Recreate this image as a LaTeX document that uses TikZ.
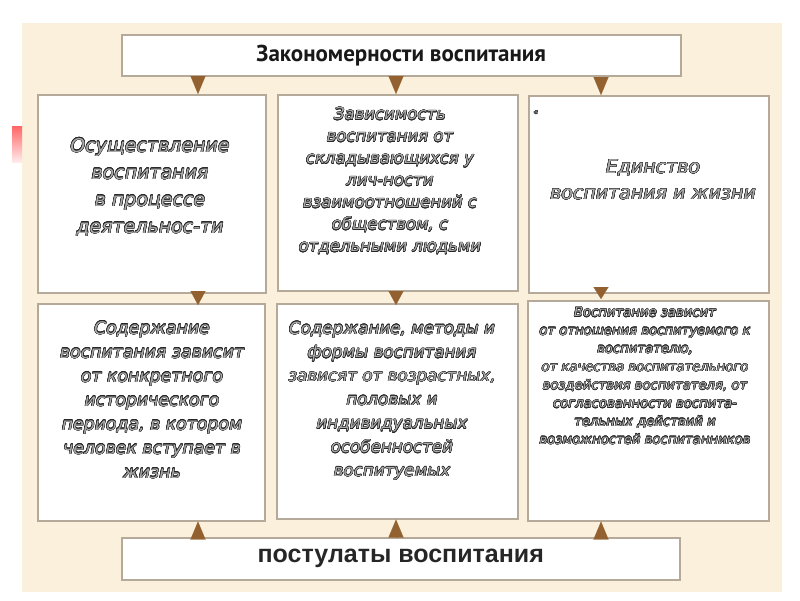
\documentclass[tikz,border=0pt]{standalone}
\usepackage{fontspec}
\usepackage[copies]{contour}
\usetikzlibrary{arrows.meta,calc}
\setmainfont{DejaVu Sans}
\newfontfamily\titlefont{PT Sans}
\newfontfamily\postfont{Liberation Sans}
\definecolor{bgcream}{HTML}{FAF0DC}
\definecolor{framec}{HTML}{B5AA9A}
\definecolor{tribrown}{HTML}{93602F}
\definecolor{fillgray}{HTML}{ABABAB}
\contourlength{0.4pt}
\newcommand\olx[1]{\contour{black!85}{#1}}
\newcommand\fs[2]{\fontsize{#1}{#2}\selectfont}
\tikzset{
  box/.style={draw=framec, line width=1.5pt, fill=white, inner sep=0pt, anchor=north west},
  txt/.style={align=center, font=\itshape, text=fillgray, inner sep=0pt},
  tridown/.style={draw=tribrown, line width=0.1pt, -{Triangle[length=#1,width=15pt,fill=tribrown]}},
}
\begin{document}
\begin{tikzpicture}[x=1pt,y=-1pt]
\useasboundingbox (0,0) rectangle (800,600);
\fill[white] (0,0) rectangle (800,600);
\fill[bgcream] (22,23) rectangle (782,592);
\shade[top color=red!60!white, bottom color=red!8!white] (12,126) rectangle (22,162);

% boxes
\node[box, minimum width=559pt, minimum height=41pt, font=\titlefont\bfseries\fs{23}{27}, text=black!90] (top) at (121,34) {Закономерности воспитания};
\node[box, minimum width=228pt, minimum height=198pt] (b11) at (37,94) {};
\node[box, minimum width=240pt, minimum height=196pt] (b12) at (277,94) {};
\node[box, minimum width=240pt, minimum height=197pt] (b13) at (528,95) {};
\node[box, minimum width=227pt, minimum height=217pt] (b21) at (37,303) {};
\node[box, minimum width=241pt, minimum height=215pt] (b22) at (276,303) {};
\node[box, minimum width=241pt, minimum height=220pt] (b23) at (527,300) {};
\node[box, minimum width=558pt, minimum height=42pt, font=\postfont\bfseries\fs{25}{30}, text=black!85] (post) at (121,537) {постулаты воспитания};

% arrow positions
\coordinate (c1) at (198,0);
\coordinate (c2) at (396,0);
\coordinate (c3) at (601,0);

\draw[tridown=18pt] (top.south -| c1) -- (b11.north -| c1);
\draw[tridown=18pt] (top.south -| c2) -- (b12.north -| c2);
\draw[tridown=18pt] (top.south -| c3) -- (b13.north -| c3);
\draw[tridown=14pt] (b11.south -| c1) -- ([yshift=-2pt]b21.north -| c1);
\draw[tridown=14pt] (b12.south -| c2) -- ([yshift=-2pt]b22.north -| c2);
\draw[tridown=12pt] (b13.south -| c3) -- ([yshift=1pt]b23.north -| c3);
\draw[tridown=18pt] (post.north -| c1) -- (b21.south -| c1);
\draw[tridown=18pt] (post.north -| c2) -- (b22.south -| c2);
\draw[tridown=18pt] (post.north -| c3) -- (b23.south -| c3);

% texts
\node[txt, font=\itshape\fs{19}{27}] (t11) at (150,187) {\olx{Осуществление}\\ \olx{воспитания}\\ \olx{в процессе}\\ \olx{деятельнос-ти}};
\node[txt, font=\itshape\fs{16.5}{22}] (t12) at (390,181) {\olx{Зависимость}\\ \olx{воспитания от}\\ \olx{складывающихся у}\\ \olx{лич-ности}\\ \olx{взаимоотношений с}\\ \olx{обществом, с}\\ \olx{отдельными людьми}};
\node[txt, font=\itshape\fs{19}{26}] (t13) at (653,180) {\olx{Единство}\\ \olx{воспитания и жизни}};
\node[txt, font=\itshape\fs{7}{8}] (m13) at (536,113) {\olx{«}};
\node[txt, font=\itshape\fs{17.3}{24}] (t21) at (152,400) {\olx{Содержание}\\ \olx{воспитания зависит}\\ \olx{от конкретного}\\ \olx{исторического}\\ \olx{периода, в котором}\\ \olx{человек вступает в}\\ \olx{жизнь}};
\node[txt, font=\itshape\fs{16.7}{23.7}] (t22) at (392,401) {\olx{Содержание, методы и}\\ \olx{формы воспитания}\\ \olx{зависят от возрастных,}\\ \olx{половых и}\\ \olx{индивидуальных}\\ \olx{особенностей}\\ \olx{воспитуемых}};
\node[txt, font=\itshape\fs{13.2}{18.2}] (t23) at (645,376) {\olx{Воспитание зависит}\\ \olx{от отношения воспитуемого к}\\ \olx{воспитателю,}\\ \olx{от качества воспитательного}\\ \olx{воздействия воспитателя, от}\\ \olx{согласованности воспита-}\\ \olx{тельных действий и}\\ \olx{возможностей воспитанников}};
\end{tikzpicture}
\end{document}
